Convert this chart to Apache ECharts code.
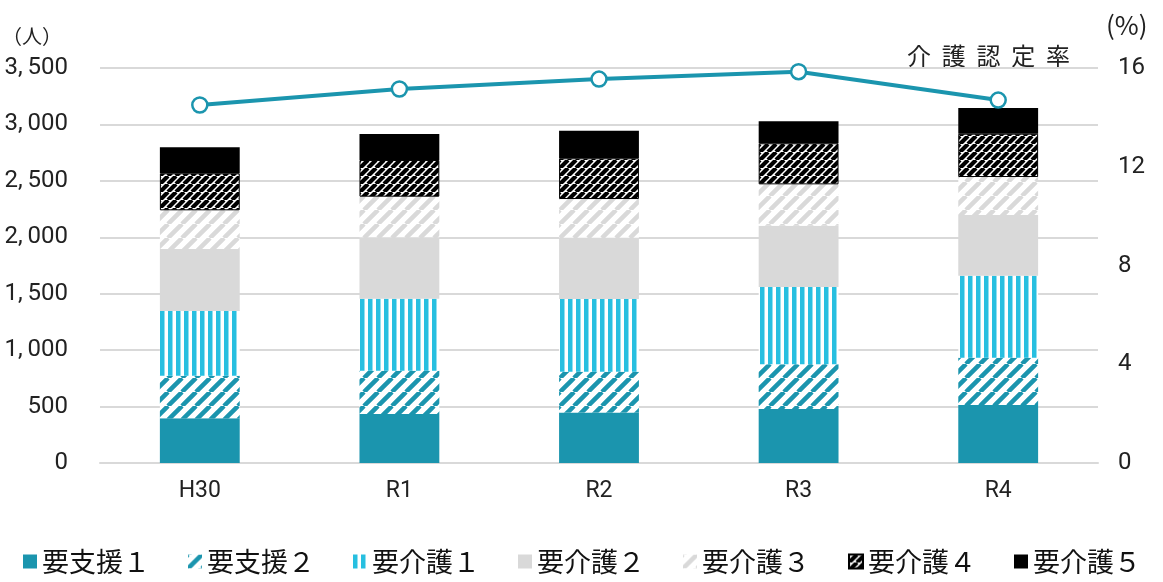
<!DOCTYPE html>
<html>
<head>
<meta charset="utf-8">
<script src="https://cdn.jsdelivr.net/npm/echarts@6/dist/echarts.min.js"></script>
<style>
  html, body { margin: 0; padding: 0; background: #fff; }
  #chart { width: 1163px; height: 582px; }
</style>
</head>
<body>
<div id="chart"></div>
<script>
// 年度
var years = ["H30", "R1", "R2", "R3", "R4"];
// 要介護度別 認定者数（人）
var shien1 = [396, 434, 447, 478, 514];
var shien2 = [377, 384, 362, 396, 419];
var kaigo1 = [574, 638, 644, 685, 727];
var kaigo2 = [549, 544, 543, 543, 537];
var kaigo3 = [343, 360, 343, 367, 337];
var kaigo4 = [328, 325, 361, 364, 384];
var kaigo5 = [230, 230, 244, 195, 228];
// 介護認定率（%）
var rate = [14.5, 15.15, 15.55, 15.85, 14.7];

var teal = "#1B95AE";

// 斜線パターン
function diag(bg, fg, s, w) {
  var c = document.createElement("canvas");
  c.width = s; c.height = s;
  var ctx = c.getContext("2d");
  ctx.fillStyle = bg;
  ctx.fillRect(0, 0, s, s);
  ctx.strokeStyle = fg;
  ctx.lineWidth = w;
  ctx.beginPath();
  for (var k = -1; k <= 1; k++) {
    ctx.moveTo(k * s, s);
    ctx.lineTo(k * s + s, 0);
  }
  ctx.stroke();
  return { image: c, repeat: "repeat" };
}
// 縦線パターン
function vert(bg, fg, s, w) {
  var c = document.createElement("canvas");
  c.width = s; c.height = s;
  var ctx = c.getContext("2d");
  ctx.fillStyle = bg;
  ctx.fillRect(0, 0, s, s);
  ctx.fillStyle = fg;
  ctx.fillRect(0, 0, w, s);
  return { image: c, repeat: "repeat" };
}

var numFont = "Roboto, sans-serif";
var jpFont = "'Noto Sans CJK JP', sans-serif";

function bar(name, data, color, border) {
  return {
    name: name,
    type: "bar",
    stack: "total",
    barWidth: "40%",
    data: data,
    itemStyle: {
      color: color,
      borderColor: border || "transparent",
      borderWidth: border ? 1 : 0
    },
    emphasis: { disabled: true }
  };
}

var myChart = echarts.init(document.getElementById("chart"));
myChart.setOption({
  animation: false,
  grid: { left: 100, right: 65, top: 68, bottom: 119, outerBoundsMode: "none" },
  legend: {
    data: ["要支援１", "要支援２", "要介護１", "要介護２", "要介護３", "要介護４", "要介護５"],
    left: 18,
    bottom: 2,
    icon: "rect",
    itemWidth: 14,
    itemHeight: 14,
    itemGap: 38,
    textStyle: { fontFamily: jpFont, fontSize: 27, color: "#111" }
  },
  xAxis: {
    type: "category",
    data: years,
    axisLine: { lineStyle: { color: "#D9D9D9", width: 2 } },
    axisTick: { show: false },
    axisLabel: { fontFamily: numFont, fontSize: 23, color: "#222", margin: 17 }
  },
  yAxis: [
    {
      type: "value",
      min: 0,
      max: 3500,
      interval: 500,
      name: "（人）",
      nameLocation: "end",
      nameGap: 22,
      nameTextStyle: { fontFamily: jpFont, fontSize: 20, color: "#222", align: "right", padding: [0, 38, 0, 0] },
      axisLine: { show: false },
      axisTick: { show: false },
      splitLine: { lineStyle: { color: "#D9D9D9", width: 2 } },
      axisLabel: {
        fontFamily: numFont, fontSize: 24, color: "#222", margin: 32,
        formatter: function (v) { return v.toLocaleString("en-US").replace(",", ",\u2009"); }
      }
    },
    {
      type: "value",
      min: 0,
      max: 16,
      interval: 4,
      name: "(%)",
      nameLocation: "end",
      nameGap: 30,
      nameTextStyle: { fontFamily: jpFont, fontSize: 26, color: "#222", align: "left", padding: [0, 0, 0, 8] },
      axisLine: { show: false },
      axisTick: { show: false },
      splitLine: { show: false },
      axisLabel: { fontFamily: numFont, fontSize: 24, color: "#222", margin: 20 }
    }
  ],
  series: [
    bar("要支援１", shien1, teal),
    bar("要支援２", shien2, diag("#fff", teal, 14, 4.5)),
    bar("要介護１", kaigo1, vert("#fff", "#27BFE0", 8, 4.5)),
    bar("要介護２", kaigo2, "#D9D9D9"),
    bar("要介護３", kaigo3, diag("#fff", "#D9D9D9", 14, 4.5)),
    bar("要介護４", kaigo4, diag("#fff", "#000", 8, 4.2), "#000"),
    bar("要介護５", kaigo5, "#000"),
    {
      name: "介護認定率",
      type: "line",
      yAxisIndex: 1,
      data: rate,
      symbol: "circle",
      symbolSize: 15,
      lineStyle: { color: teal, width: 4 },
      itemStyle: { color: "#fff", borderColor: teal, borderWidth: 2.5 },
      z: 5
    }
  ],
  graphic: [
    {
      type: "text",
      left: 907,
      top: 44,
      style: {
        text: "介  護  認  定  率",
        fontFamily: jpFont,
        fontSize: 24,
        fill: "#222"
      }
    }
  ]
});
</script>
</body>
</html>
